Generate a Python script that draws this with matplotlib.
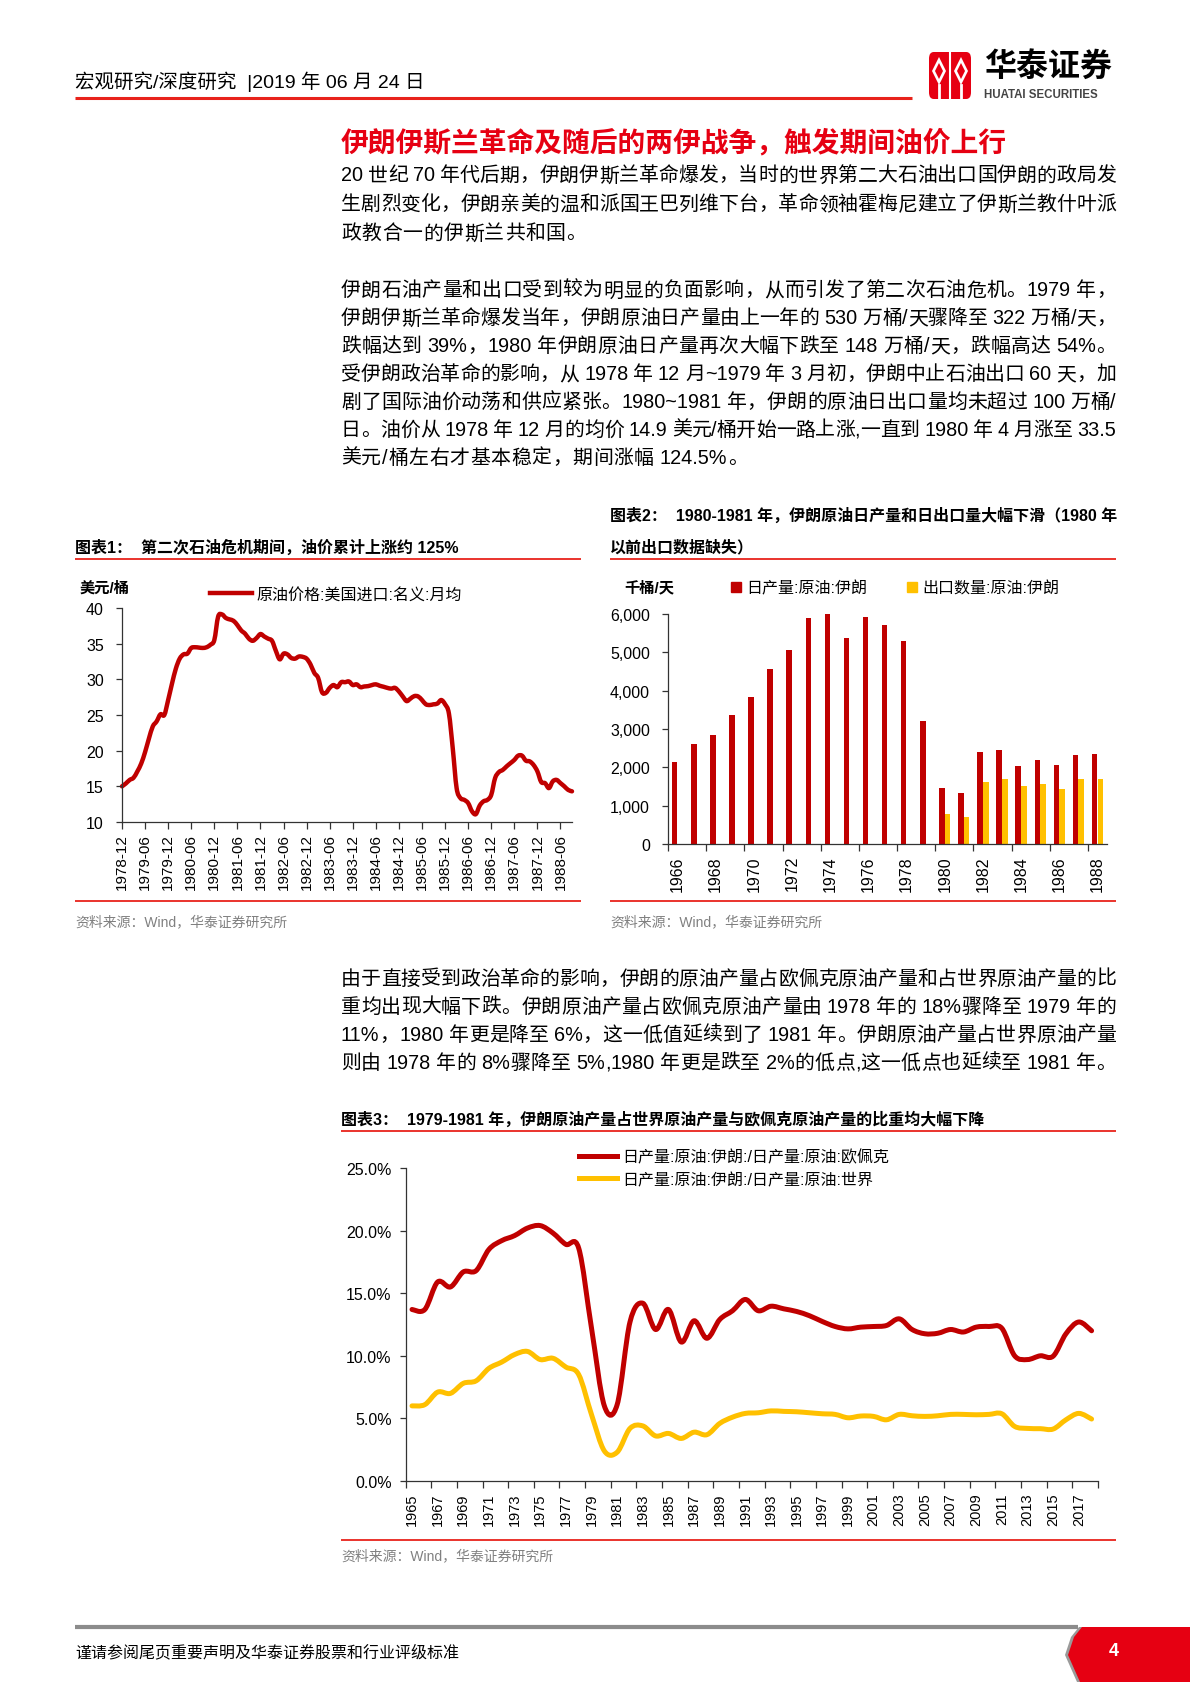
import re
import numpy as np
import matplotlib
matplotlib.use("Agg")
import matplotlib.pyplot as plt
from matplotlib.lines import Line2D
from matplotlib.patches import Patch, PathPatch, Polygon, FancyBboxPatch
from matplotlib.path import Path
from matplotlib.ticker import FuncFormatter, FixedLocator
from matplotlib.font_manager import FontProperties

plt.rcParams['font.family'] = ['Liberation Sans', 'Noto Sans CJK SC', 'DejaVu Sans']

# -----------------------------
# Data
# -----------------------------
# chart 1: US import crude price, monthly, 1978-12 .. 1988-09
price_1978 = [15.0]
price_1979 = [15.4, 15.9, 16.2, 17.1, 18.2, 19.8, 21.7, 23.4, 24.1, 25.1, 25.0, 27.1]
price_1980 = [29.4, 31.5, 32.9, 33.5, 33.6, 34.4, 34.5, 34.45, 34.4, 34.5, 34.85, 35.5]
price_1981 = [38.8, 39.1, 38.6, 38.4, 38.2, 37.6, 36.85, 36.4, 35.7, 35.4, 35.8, 36.35]
price_1982 = [36.0, 35.7, 35.4, 34.0, 32.8, 33.6, 33.5, 33.0, 32.9, 33.2, 33.15, 32.9]
price_1983 = [32.1, 30.9, 30.2, 28.2, 28.1, 28.8, 29.2, 28.9, 29.6, 29.6, 29.7, 29.2]
price_1984 = [29.3, 28.9, 29.0, 29.05, 29.2, 29.3, 29.1, 28.96, 28.8, 28.7, 28.8, 28.3]
price_1985 = [27.6, 26.95, 27.3, 27.65, 27.6, 27.1, 26.5, 26.4, 26.5, 26.6, 27.1, 26.5]
price_1986 = [25.2, 20.3, 14.75, 13.35, 13.1, 12.65, 11.5, 11.1, 12.3, 12.9, 13.1, 13.8]
price_1987 = [16.15, 17.0, 17.3, 17.8, 18.25, 18.7, 19.3, 19.3, 18.6, 18.5, 18.0, 17.1]
price_1988 = [15.6, 15.45, 14.75, 15.7, 15.9, 15.45, 15.0, 14.5, 14.3]
oil_price = (price_1978 + price_1979 + price_1980 + price_1981 + price_1982 + price_1983
             + price_1984 + price_1985 + price_1986 + price_1987 + price_1988)
month_labels = ['1978-12', '1979-06', '1979-12', '1980-06', '1980-12', '1981-06', '1981-12',
                '1982-06', '1982-12', '1983-06', '1983-12', '1984-06', '1984-12', '1985-06',
                '1985-12', '1986-06', '1986-12', '1987-06', '1987-12', '1988-06']

# chart 2: Iran crude production / exports, kb/d
bar_years = ['1966', '1967', '1968', '1969', '1970', '1971', '1972', '1973', '1974', '1975',
             '1976', '1977', '1978', '1979', '1980', '1981', '1982', '1983', '1984', '1985',
             '1986', '1987', '1988']
production = [2130, 2600, 2835, 3365, 3843, 4565, 5052, 5904, 6000, 5374,
              5913, 5713, 5287, 3200, 1470, 1322, 2391, 2443, 2035, 2191,
              2052, 2330, 2339]
exports = [np.nan] * 14 + [783, 704, 1617, 1704, 1513, 1565, 1443, 1696, 1696]

# chart 3: Iran share of OPEC / world production (%)
share_years = [str(y) for y in range(1965, 2019)]
opec_share = [13.7, 13.7, 15.9, 15.5, 16.7, 16.8, 18.5, 19.2, 19.6, 20.2,
              20.4, 19.8, 18.9, 18.6, 12.2, 6.0, 6.1, 12.7, 14.2, 12.1,
              13.7, 11.1, 12.8, 11.4, 12.9, 13.6, 14.5, 13.6, 13.96, 13.75,
              13.54, 13.2, 12.74, 12.34, 12.15, 12.29, 12.34, 12.42, 12.95, 12.1,
              11.76, 11.8, 12.1, 11.9, 12.29, 12.34, 12.2, 10.0, 9.7, 10.0,
              9.97, 11.76, 12.7, 12.0]
world_share = [6.0, 6.1, 7.1, 7.0, 7.8, 8.0, 9.0, 9.5, 10.1, 10.35,
               9.7, 9.8, 9.1, 8.5, 5.3, 2.4, 2.3, 4.2, 4.4, 3.6,
               3.8, 3.4, 3.9, 3.7, 4.6, 5.1, 5.4, 5.45, 5.6, 5.56,
               5.53, 5.45, 5.37, 5.32, 5.05, 5.19, 5.16, 4.89, 5.32, 5.21,
               5.16, 5.21, 5.32, 5.32, 5.29, 5.32, 5.37, 4.36, 4.2, 4.18,
               4.15, 4.89, 5.4, 4.95]

# -----------------------------
# Page text
# -----------------------------
para1 = ['20 世纪 70 年代后期，伊朗伊斯兰革命爆发，当时的世界第二大石油出口国伊朗的政局发',
         '生剧烈变化，伊朗亲美的温和派国王巴列维下台，革命领袖霍梅尼建立了伊斯兰教什叶派',
         '政教合一的伊斯兰共和国。']
para2 = ['伊朗石油产量和出口受到较为明显的负面影响，从而引发了第二次石油危机。1979 年，',
         '伊朗伊斯兰革命爆发当年，伊朗原油日产量由上一年的 530 万桶/天骤降至 322 万桶/天，',
         '跌幅达到 39%，1980 年伊朗原油日产量再次大幅下跌至 148 万桶/天，跌幅高达 54%。',
         '受伊朗政治革命的影响，从 1978 年 12 月~1979 年 3 月初，伊朗中止石油出口 60 天，加',
         '剧了国际油价动荡和供应紧张。1980~1981 年，伊朗的原油日出口量均未超过 100 万桶/',
         '日。油价从 1978 年 12 月的均价 14.9 美元/桶开始一路上涨,一直到 1980 年 4 月涨至 33.5',
         '美元/桶左右才基本稳定，期间涨幅 124.5%。']
para3 = ['由于直接受到政治革命的影响，伊朗的原油产量占欧佩克原油产量和占世界原油产量的比',
         '重均出现大幅下跌。伊朗原油产量占欧佩克原油产量由 1978 年的 18%骤降至 1979 年的',
         '11%，1980 年更是降至 6%，这一低值延续到了 1981 年。伊朗原油产量占世界原油产量',
         '则由 1978 年的 8%骤降至 5%,1980 年更是跌至 2%的低点,这一低点也延续至 1981 年。']

RED = '#E60012'
LINE_RED = '#E8231B'
DARK_RED = '#C00000'
YELLOW = '#FFC000'
GREY = '#808080'
BODY = ['Liberation Sans', 'Noto Sans CJK SC']
BODY_SIZE = 14.3

W, H = 1190, 1683
fig = plt.figure(figsize=(W / 100, H / 100), dpi=100)
renderer = fig.canvas.get_renderer()


def fx(x):
    return x / W


def fy(y):
    return 1 - y / H


def hline(x0, x1, y, color=LINE_RED, lw=1.3):
    fig.add_artist(Line2D([fx(x0), fx(x1)], [fy(y), fy(y)], transform=fig.transFigure,
                          color=color, lw=lw, solid_capstyle='butt'))


def txt(x, y, s, **kw):
    kw.setdefault('va', 'center')
    kw.setdefault('ha', 'left')
    fig.text(fx(x), fy(y), s, **kw)


def body_line(x0, x1, y, line, justify=True):
    # place a body line token by token so it can be justified like the report
    prop = FontProperties(family=BODY, size=BODY_SIZE)
    toks = re.findall(r'[A-Za-z0-9.%~/\-]+| |.', line)
    space_w = 0.25 * BODY_SIZE * 100 / 72
    widths = []
    for t in toks:
        if t == ' ':
            widths.append(space_w)
        else:
            widths.append(renderer.get_text_width_height_descent(t, prop, ismath=False)[0])
    gap = 0.6
    if justify and len(toks) > 1:
        gap = (x1 - x0 - sum(widths)) / (len(toks) - 1)
    x = x0
    base = y + 0.37 * BODY_SIZE * 100 / 72
    for t, w in zip(toks, widths):
        if t != ' ':
            fig.text(fx(x), fy(base), t, fontproperties=prop, va='baseline', ha='left')
        x += w + gap


def paragraph(lines, y0, step, last_full=False):
    for i, line in enumerate(lines):
        body_line(341, 1116, y0 + step * i, line, justify=(last_full or i < len(lines) - 1))


def add_axes(x0, y0, x1, y1):
    return fig.add_axes([fx(x0), fy(y1), (x1 - x0) / W, (y1 - y0) / H])


def smooth_path(xs, ys):
    # Excel-style smoothed line through the data points
    pts = np.column_stack([xs, ys]).astype(float)
    n = len(pts)
    verts = [pts[0]]
    codes = [Path.MOVETO]
    for i in range(n - 1):
        p0 = pts[max(i - 1, 0)]
        p1, p2 = pts[i], pts[i + 1]
        p3 = pts[min(i + 2, n - 1)]
        verts += [p1 + (p2 - p0) / 6, p2 - (p3 - p1) / 6, p2]
        codes += [Path.CURVE4] * 3
    return Path(verts, codes)


def style_axes(ax):
    for s in ['top', 'right']:
        ax.spines[s].set_visible(False)
    for s in ['left', 'bottom']:
        ax.spines[s].set_color('#333333')
        ax.spines[s].set_linewidth(0.9)
    ax.set_facecolor('none')


# -----------------------------
# Header
# -----------------------------
txt(75, 82, '宏观研究/深度研究  |2019 年 06 月 24 日', fontsize=14)
hline(75, 912, 99, lw=2.2)

logo = FancyBboxPatch((fx(929), fy(100)), 42 / W, 47 / H, boxstyle='round,pad=0,rounding_size=0.004',
                      transform=fig.transFigure, facecolor=RED, edgecolor='none')
fig.add_artist(logo)
for cx in (939, 961):
    fig.add_artist(Polygon([(fx(cx), fy(58)), (fx(cx + 7), fy(72)), (fx(cx), fy(86)), (fx(cx - 7), fy(72))],
                           closed=True, transform=fig.transFigure, facecolor='white', edgecolor='none'))
    fig.add_artist(Polygon([(fx(cx), fy(64)), (fx(cx + 4), fy(72)), (fx(cx), fy(80)), (fx(cx - 4), fy(72))],
                           closed=True, transform=fig.transFigure, facecolor=RED, edgecolor='none'))
    fig.add_artist(Line2D([fx(cx), fx(cx)], [fy(86), fy(100)], transform=fig.transFigure,
                          color='white', lw=2))
fig.add_artist(Line2D([fx(950), fx(950)], [fy(52), fy(100)], transform=fig.transFigure, color='white', lw=1.5))
txt(984, 67, '华泰证券', fontsize=23, fontweight='bold', family=['Noto Sans CJK SC'])
txt(984, 95, 'HUATAI SECURITIES', fontsize=8.3, fontweight='bold', color='#444444')

# -----------------------------
# Body text
# -----------------------------
txt(341, 143, '伊朗伊斯兰革命及随后的两伊战争，触发期间油价上行', fontsize=20, fontweight='bold',
    color=RED, family=['Noto Sans CJK SC'])
paragraph(para1, 174, 29)
paragraph(para2, 289, 27.9)
paragraph(para3, 977.6, 27.9, last_full=True)

# -----------------------------
# Chart 1: oil price
# -----------------------------
TITLE = 11.5
txt(75, 548, '图表1：  第二次石油危机期间，油价累计上涨约 125%', fontsize=TITLE, fontweight='bold')
hline(75, 581, 560)
hline(75, 581, 902)
txt(75, 922, '资料来源：Wind，华泰证券研究所', fontsize=10, color=GREY)
txt(80, 588, '美元/桶', fontsize=11, fontweight='bold')

ax1 = add_axes(122, 609, 572, 823)
style_axes(ax1)
x1 = np.arange(len(oil_price))
ax1.add_patch(PathPatch(smooth_path(x1, oil_price), fill=False, edgecolor=DARK_RED, lw=3.2,
                        capstyle='round', joinstyle='round', clip_on=False))
ax1.set_xlim(0, len(oil_price) - 1)
ax1.set_ylim(10, 40)
ax1.set_yticks(range(10, 41, 5))
ax1.set_xticks(np.arange(0, len(month_labels) * 6, 6))
ax1.set_xticklabels(month_labels, rotation=90)
ax1.tick_params(axis='y', length=4, width=0.9, pad=9, labelsize=11.5, color='#333333')
ax1.tick_params(axis='x', length=5, width=0.9, pad=3, labelsize=11, color='#333333')
ax1.legend([Line2D([], [], color=DARK_RED, lw=3.2)], ['原油价格:美国进口:名义:月均'],
           loc='center left', bbox_to_anchor=(fx(210), fy(595)), bbox_transform=fig.transFigure,
           frameon=False, fontsize=11.5, handlelength=2.6, handletextpad=0.3,
           borderpad=0, borderaxespad=0)

# -----------------------------
# Chart 2: production & exports
# -----------------------------
txt(610, 516, '图表2：  1980-1981 年，伊朗原油日产量和日出口量大幅下滑（1980 年', fontsize=TITLE,
    fontweight='bold')
txt(610, 548, '以前出口数据缺失）', fontsize=TITLE, fontweight='bold')
hline(610, 1116, 560)
hline(610, 1116, 902)
txt(610, 922, '资料来源：Wind，华泰证券研究所', fontsize=10, color=GREY)
txt(624, 588, '千桶/天', fontsize=11, fontweight='bold')

ax2 = add_axes(668, 615, 1107, 845)
style_axes(ax2)
x2 = np.arange(len(bar_years))
ax2.bar(x2 - 0.15, production, width=0.29, color=DARK_RED, edgecolor='none')
ax2.bar(x2 + 0.15, exports, width=0.29, color=YELLOW, edgecolor='none')
ax2.set_xlim(-0.5, len(bar_years) - 0.5)
ax2.set_ylim(0, 6000)
ax2.set_yticks(range(0, 6001, 1000))
ax2.yaxis.set_major_formatter(FuncFormatter(lambda v, _: f'{v:,.0f}'))
ax2.xaxis.set_major_locator(FixedLocator(np.arange(-0.5, len(bar_years) - 1, 2)))
ax2.xaxis.set_minor_locator(FixedLocator(x2[::2]))
ax2.set_xticklabels([])
ax2.set_xticklabels(bar_years[::2], minor=True, rotation=90)
ax2.tick_params(axis='x', which='major', length=5, width=0.9, color='#333333')
ax2.tick_params(axis='x', which='minor', length=0, pad=8, labelsize=11.5)
ax2.tick_params(axis='y', length=4, width=0.9, pad=9, labelsize=11.5, color='#333333')
ax2.legend([Patch(color=DARK_RED), Patch(color=YELLOW)], ['日产量:原油:伊朗', '出口数量:原油:伊朗'],
           loc='center left', bbox_to_anchor=(fx(731), fy(589)), bbox_transform=fig.transFigure,
           ncol=2, frameon=False, fontsize=11.5, handlelength=0.65, handleheight=0.65,
           handletextpad=0.3, columnspacing=2.5, borderpad=0, borderaxespad=0)

# -----------------------------
# Chart 3: share of OPEC / world
# -----------------------------
txt(341, 1120, '图表3：  1979-1981 年，伊朗原油产量占世界原油产量与欧佩克原油产量的比重均大幅下降',
    fontsize=TITLE, fontweight='bold')
hline(341, 1116, 1132)
hline(341, 1116, 1541)
txt(341, 1556, '资料来源：Wind，华泰证券研究所', fontsize=10, color=GREY)

ax3 = add_axes(405.6, 1169, 1098, 1482)
style_axes(ax3)
x3 = np.arange(len(share_years))
ax3.add_patch(PathPatch(smooth_path(x3, opec_share), fill=False, edgecolor=DARK_RED, lw=3.6,
                        capstyle='round', joinstyle='round', clip_on=False))
ax3.add_patch(PathPatch(smooth_path(x3, world_share), fill=False, edgecolor=YELLOW, lw=3.6,
                        capstyle='round', joinstyle='round', clip_on=False))
ax3.set_xlim(-0.5, len(share_years) - 0.5)
ax3.set_ylim(0, 25)
ax3.set_yticks(range(0, 26, 5))
ax3.yaxis.set_major_formatter(FuncFormatter(lambda v, _: f'{v:.1f}%'))
ax3.xaxis.set_major_locator(FixedLocator(np.arange(-0.5, len(share_years), 2)))
ax3.xaxis.set_minor_locator(FixedLocator(x3[::2]))
ax3.set_xticklabels([])
ax3.set_xticklabels(share_years[::2], minor=True, rotation=90)
ax3.tick_params(axis='x', which='major', length=5, width=0.9, color='#333333')
ax3.tick_params(axis='x', which='minor', length=0, pad=8, labelsize=10.5)
ax3.tick_params(axis='y', length=4, width=0.9, pad=6, labelsize=11.5, color='#333333')
ax3.legend([Line2D([], [], color=DARK_RED, lw=3.6), Line2D([], [], color=YELLOW, lw=3.6)],
           ['日产量:原油:伊朗:/日产量:原油:欧佩克', '日产量:原油:伊朗:/日产量:原油:世界'],
           loc='center left', bbox_to_anchor=(fx(579), fy(1169)), bbox_transform=fig.transFigure,
           frameon=False, fontsize=11.5, handlelength=2.4, handletextpad=0.3, labelspacing=0.45,
           borderpad=0, borderaxespad=0)

# -----------------------------
# Footer
# -----------------------------
hline(75, 1078, 1628, color='#8C8C8C', lw=3)
txt(75, 1652, '谨请参阅尾页重要声明及华泰证券股票和行业评级标准', fontsize=11.5)
tab = [(1082, 1628), (1190, 1628), (1190, 1683), (1080, 1683), (1068, 1656), (1074, 1638)]
fig.add_artist(Polygon([(fx(x) - 3 / W, fy(y)) for x, y in tab], closed=True, transform=fig.transFigure,
                       facecolor='#9A9A9A', edgecolor='none'))
fig.add_artist(Polygon([(fx(x), fy(y)) for x, y in tab], closed=True, transform=fig.transFigure,
                       facecolor=RED, edgecolor='none'))
txt(1114, 1652, '4', fontsize=13, fontweight='bold', color='white', ha='center')

fig.savefig('out.png', dpi=100)
